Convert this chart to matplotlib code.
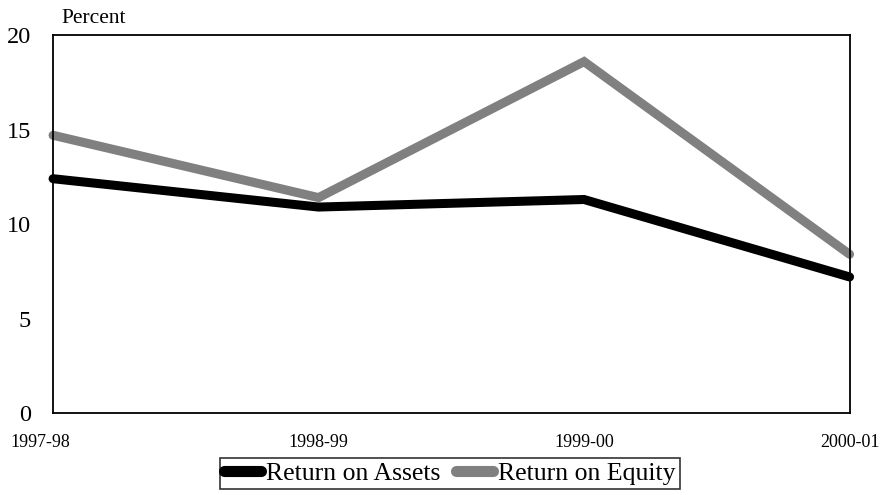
import matplotlib.pyplot as plt
import matplotlib.transforms as mtransforms

# ---------- Data ----------
years = ["1997-98", "1998-99", "1999-00", "2000-01"]
return_on_assets = [12.4, 10.9, 11.3, 7.2]
return_on_equity = [14.7, 11.4, 18.6, 8.4]

plt.rcParams["font.family"] = ["Liberation Serif", "DejaVu Serif"]

fig = plt.figure(figsize=(8.87, 4.95), dpi=100)
ax = fig.add_axes([0.0598, 0.1657, 0.898, 0.7633])

x = range(len(years))
ax.plot(x, return_on_assets, color="black", lw=6.5, solid_capstyle="round",
        solid_joinstyle="miter", clip_on=False, label="Return on Assets", zorder=3)
ax.plot(x, return_on_equity, color="#808080", lw=6.5, solid_capstyle="round",
        solid_joinstyle="miter", clip_on=False, label="Return on Equity", zorder=2)

ax.set_xlim(0, len(years) - 1)
ax.set_ylim(0, 20)
ax.set_yticks([0, 5, 10, 15, 20])
ax.set_xticks(list(x))
ax.set_xticklabels(years, fontsize=13)
ax.tick_params(axis="y", length=0, pad=16, labelsize=17.5)
ax.tick_params(axis="x", length=0, pad=15)

# first x label sits a bit left of the axis corner
offset = mtransforms.ScaledTranslation(-13 / 100, 0, fig.dpi_scale_trans)
lbl = ax.get_xticklabels()[0]
lbl.set_transform(lbl.get_transform() + offset)

for s in ax.spines.values():
    s.set_linewidth(1.3)
    s.set_color("black")

ax.text(0.011, 1.02, "Percent", transform=ax.transAxes, fontsize=15.5,
        ha="left", va="bottom")

leg = fig.legend(loc="center", bbox_to_anchor=(0.507, 0.0434), ncol=2,
                 fontsize=18.5, frameon=True, fancybox=False, handlelength=1.45,
                 handletextpad=0.2, columnspacing=0.6, borderpad=0.15,
                 borderaxespad=0)
leg.get_frame().set_edgecolor("black")
leg.get_frame().set_linewidth(1.2)
for h in leg.get_lines():
    h.set_linewidth(8)

fig.savefig("out.png", dpi=100)
